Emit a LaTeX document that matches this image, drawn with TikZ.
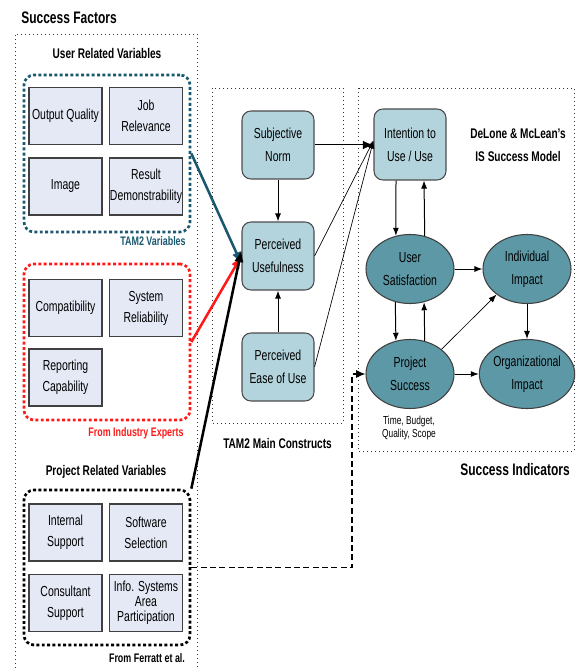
\documentclass[tikz,border=0pt]{standalone}
\usepackage{fontspec}
\setmainfont{Liberation Sans}[FakeStretch=0.72]
\usetikzlibrary{arrows.meta,shapes.geometric}
\definecolor{varfill}{HTML}{E4E9F5}
\definecolor{tamfill}{HTML}{B3D4DC}
\definecolor{isfill}{HTML}{5C98A6}
\definecolor{tamblue}{HTML}{1A5870}
\definecolor{exred}{HTML}{FF1A1A}

\begin{document}
\begin{tikzpicture}[x=0.75pt,y=0.75pt,yscale=-1,xscale=1,
    varbox/.style={draw=black!75,line width=0.8pt,fill=varfill,minimum width=54.75pt,minimum height=42.75pt,inner sep=0pt,align=center,font=\fontsize{10.9}{15.75}\selectfont},
    tambox/.style={draw=black!70,line width=0.8pt,rounded corners=6.75pt,fill=tamfill,minimum width=54pt,minimum height=51pt,inner sep=0.75pt,align=center,font=\fontsize{10.9}{17}\selectfont},
    isnode/.style={ellipse,draw=black!75,line width=0.8pt,fill=isfill,minimum width=66pt,minimum height=51.75pt,inner sep=0pt,align=center,font=\fontsize{10.9}{17}\selectfont},
    groupbox/.style={line width=2pt,dash pattern=on 2.2pt off 1.8pt,rounded corners=7.5pt,minimum width=124.5pt},
    regionbox/.style={line width=0.7pt,dash pattern=on 0.8pt off 2.2pt,black!80},
    heading/.style={inner sep=0.75pt,font=\bfseries\fontsize{10.5}{17}\selectfont,align=center},
    bigtitle/.style={inner sep=0.75pt,font=\bfseries\fontsize{12.5}{14}\selectfont},
    notetext/.style={inner sep=0.75pt,font=\bfseries\fontsize{9.3}{10}\selectfont},
    flowarrow/.style={line width=0.75pt,-{Latex[length=6pt,width=4.5pt]}},
    feed/.style={line width=1.9pt,-{Latex[length=9pt,width=7pt]}}
]
\useasboundingbox (0,0) rectangle (579,670);

\draw[regionbox] (15,672) -- (15,34) -- (197,34) -- (197,672);
\draw[regionbox] (212,88) rectangle (343,423);
\draw[regionbox] (358,88) rectangle (574,451);

\node[bigtitle] (sftitle) at (69,18) {Success Factors};
\node[heading] (userhead) at (107,53) {User Related Variables};
\node[groupbox,draw=tamblue,minimum height=117.75pt] (tamvars) at (107,153.5) {};
\node[varbox] (oq) at (65.5,116) {Output Quality};
\node[varbox] (jr) at (146,116) {Job\\Relevance};
\node[varbox] (img) at (65.5,186.5) {Image};
\node[varbox] (rd) at (146,186.5) {Result\\Demonstrability};
\node[notetext,text=tamblue] (tamvarlabel) at (153,241) {TAM2 Variables};

\node[groupbox,draw=exred,minimum height=117pt] (indvars) at (107,342) {};
\node[varbox] (comp) at (65.5,308) {Compatibility};
\node[varbox] (sysrel) at (146,308) {System\\Reliability};
\node[varbox] (repcap) at (65.5,377.5) {Reporting\\Capability};
\node[notetext,text=exred] (indlabel) at (136,433) {From Industry Experts};

\node[heading] (projhead) at (106,472) {Project Related Variables};
\node[groupbox,draw=black,minimum height=116.25pt] (projvars) at (107,567.5) {};
\node[varbox] (intsup) at (65.5,532.5) {Internal\\Support};
\node[varbox] (softsel) at (146,532.5) {Software\\Selection};
\node[varbox] (consup) at (65.5,603) {Consultant\\Support};
\node[varbox,font=\fontsize{10.9}{11.25}\selectfont] (isap) at (146,603) {Info. Systems\\Area\\Participation};
\node[notetext] (ferlabel) at (147,658) {From Ferratt et al.};

\node[tambox] (sn) at (278,145) {Subjective\\Norm};
\node[tambox] (pu) at (278,256) {Perceived\\Usefulness};
\node[tambox] (peou) at (278,367) {Perceived\\Ease of Use};
\node[heading] (tamhead) at (277.5,443) {TAM2 Main Constructs};

\node[tambox,minimum height=53.25pt] (itu) at (410,144.5) {Intention to\\Use / Use};
\node[heading] (islabel) at (518,145.5) {DeLone \& McLean's\\IS Success Model};
\node[isnode] (us) at (410,269) {User\\Satisfaction};
\node[isnode] (ii) at (527,269) {Individual\\Impact};
\node[isnode] (ps) at (410,374) {Project\\Success};
\node[isnode] (oi) at (527,374) {Organizational\\Impact};
\node[inner sep=0.75pt,align=center,font=\fontsize{8.7}{9.75}\selectfont] (psnote) at (409,427.5) {Time, Budget,\\Quality, Scope};
\node[bigtitle] (sititle) at (515,470) {Success Indicators};

\draw[feed,tamblue] (tamvars.east) -- ([yshift=6pt]pu.west);
\draw[feed,exred] (indvars.east) -- (pu.west);
\draw[feed,black] (projvars.north east) -- ([yshift=-4.5pt]pu.west);

\draw[flowarrow,-{Latex[length=8pt,width=6.5pt]}] (sn.east) -- (sn.east -| itu.west);
\draw[flowarrow] (sn) -- (pu);
\draw[flowarrow] (peou) -- (pu);
\draw[flowarrow,line width=0.5pt] (pu.east) -- ([yshift=-3pt]itu.west);
\draw[flowarrow,line width=0.5pt] (peou.east) -- ([yshift=-3pt]itu.west);
\draw[flowarrow] ([xshift=-10.5pt]itu.south) -- (us.113.2);
\draw[flowarrow] (us.66.8) -- ([xshift=10.5pt]itu.south);
\draw[flowarrow] (us.246.8) -- (ps.113.2);
\draw[flowarrow] (ps.66.8) -- (us.293.2);
\draw[flowarrow] (us) -- (ii);
\draw[flowarrow] (ii) -- (oi);
\draw[flowarrow] (ps) -- (oi);
\draw[flowarrow,line width=0.5pt] (ps.38) -- (ii.220);

\coordinate (bend) at (352,567.5);
\draw[line width=0.9pt,dash pattern=on 4.5pt off 2.5pt,-{Latex[length=7pt,width=6pt]}] (projvars.east) -- (bend) |- (ps.west);
\end{tikzpicture}
\end{document}
